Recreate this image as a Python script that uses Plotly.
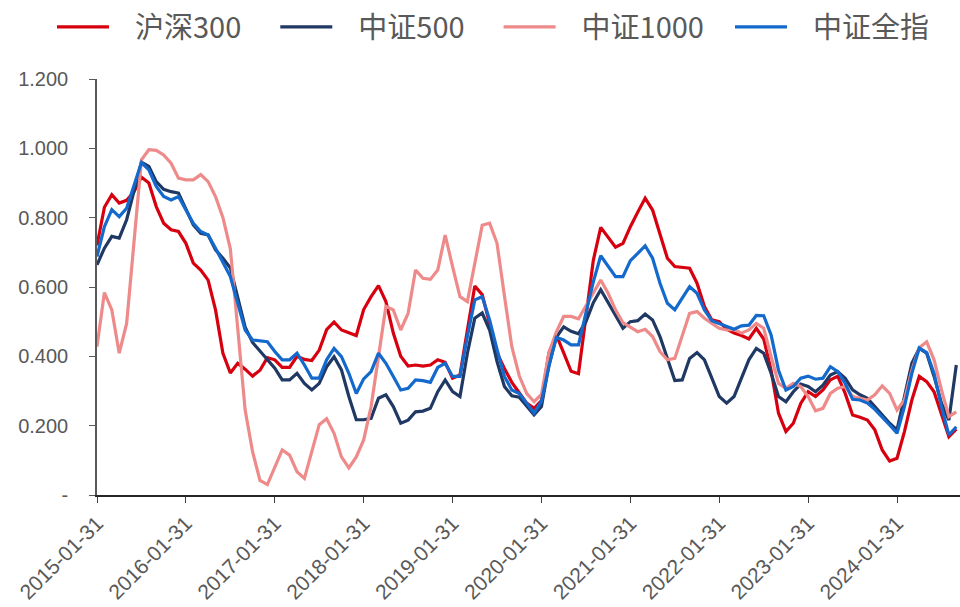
import pandas as pd
import plotly.graph_objects as go

dates = [d.strftime("%Y-%m-%d") for d in pd.date_range("2015-01-31", "2024-09-30", freq="ME")]

hs300 = [0.72, 0.83, 0.866, 0.842, 0.85, 0.875, 0.917, 0.90, 0.832, 0.784, 0.765, 0.76,
         0.726, 0.669, 0.649, 0.62, 0.534, 0.409, 0.352, 0.38, 0.363, 0.343, 0.36, 0.396,
         0.39, 0.368, 0.368, 0.40, 0.391, 0.388, 0.418, 0.477, 0.499, 0.476, 0.468, 0.46,
         0.535, 0.572, 0.604, 0.558, 0.467, 0.40, 0.372, 0.375, 0.372, 0.375, 0.39, 0.383,
         0.337, 0.346, 0.476, 0.603, 0.578, 0.49, 0.41, 0.365, 0.325, 0.295, 0.265, 0.25,
         0.272, 0.41, 0.462, 0.41, 0.357, 0.35, 0.51, 0.677, 0.772, 0.744, 0.715, 0.726,
         0.774, 0.816, 0.856, 0.822, 0.755, 0.683, 0.659, 0.657, 0.654, 0.611, 0.544, 0.505,
         0.50, 0.478, 0.467, 0.46, 0.45, 0.481, 0.45, 0.36, 0.236, 0.183, 0.207, 0.264,
         0.298, 0.284, 0.303, 0.332, 0.343, 0.293, 0.231, 0.224, 0.216, 0.188, 0.13, 0.098,
         0.106, 0.183, 0.274, 0.342, 0.327, 0.298, 0.236, 0.168, 0.19]

zz500 = [0.664, 0.712, 0.746, 0.741, 0.794, 0.88, 0.96, 0.948, 0.904, 0.882, 0.875, 0.871,
         0.827, 0.779, 0.755, 0.75, 0.707, 0.683, 0.655, 0.565, 0.484, 0.44, 0.415, 0.392,
         0.366, 0.332, 0.332, 0.351, 0.322, 0.303, 0.322, 0.37, 0.399, 0.361, 0.284, 0.217,
         0.217, 0.221, 0.279, 0.289, 0.255, 0.207, 0.216, 0.24, 0.242, 0.25, 0.298, 0.332,
         0.298, 0.284, 0.409, 0.51, 0.525, 0.476, 0.385, 0.313, 0.286, 0.282, 0.255, 0.231,
         0.255, 0.375, 0.455, 0.485, 0.472, 0.465, 0.50, 0.555, 0.592, 0.555, 0.515, 0.481,
         0.50, 0.503, 0.522, 0.505, 0.457, 0.39, 0.33, 0.332, 0.394, 0.411, 0.39, 0.337,
         0.284, 0.265, 0.284, 0.337, 0.39, 0.423, 0.409, 0.351, 0.284, 0.269, 0.298, 0.32,
         0.313, 0.298, 0.317, 0.346, 0.356, 0.337, 0.303, 0.289, 0.279, 0.255, 0.231, 0.207,
         0.188, 0.284, 0.38, 0.423, 0.409, 0.342, 0.265, 0.216, 0.375]

zz1000 = [0.428, 0.584, 0.534, 0.409, 0.495, 0.736, 0.967, 0.996, 0.994, 0.981, 0.957, 0.914,
          0.909, 0.909, 0.924, 0.904, 0.861, 0.80, 0.71, 0.48, 0.245, 0.125, 0.042, 0.03,
          0.082, 0.13, 0.115, 0.067, 0.048, 0.13, 0.203, 0.22, 0.178, 0.11, 0.078, 0.11,
          0.159, 0.255, 0.40, 0.544, 0.534, 0.476, 0.524, 0.649, 0.625, 0.622, 0.649, 0.75,
          0.659, 0.572, 0.558, 0.669, 0.778, 0.784, 0.726, 0.575, 0.428, 0.344, 0.293, 0.269,
          0.29, 0.41, 0.47, 0.515, 0.515, 0.508, 0.544, 0.582, 0.62, 0.582, 0.534, 0.497,
          0.485, 0.471, 0.478, 0.457, 0.414, 0.39, 0.394, 0.457, 0.524, 0.529, 0.51, 0.495,
          0.481, 0.476, 0.478, 0.467, 0.476, 0.495, 0.481, 0.40, 0.322, 0.308, 0.322, 0.313,
          0.284, 0.243, 0.25, 0.293, 0.308, 0.313, 0.284, 0.279, 0.274, 0.289, 0.315, 0.293,
          0.245, 0.274, 0.36, 0.425, 0.442, 0.39, 0.303, 0.226, 0.24]

zzqz = [0.688, 0.774, 0.823, 0.803, 0.827, 0.89, 0.959, 0.938, 0.89, 0.861, 0.851, 0.861,
        0.823, 0.784, 0.76, 0.75, 0.712, 0.669, 0.63, 0.553, 0.476, 0.447, 0.445, 0.442,
        0.414, 0.39, 0.39, 0.409, 0.375, 0.337, 0.337, 0.39, 0.423, 0.399, 0.351, 0.293,
        0.335, 0.356, 0.409, 0.38, 0.342, 0.303, 0.308, 0.332, 0.33, 0.325, 0.368, 0.38,
        0.342, 0.342, 0.457, 0.563, 0.572, 0.505, 0.42, 0.342, 0.303, 0.293, 0.265, 0.236,
        0.27, 0.37, 0.455, 0.447, 0.433, 0.433, 0.525, 0.615, 0.69, 0.66, 0.63, 0.63,
        0.676, 0.697, 0.719, 0.683, 0.611, 0.553, 0.534, 0.568, 0.601, 0.582, 0.534, 0.503,
        0.495, 0.486, 0.478, 0.488, 0.49, 0.518, 0.517, 0.462, 0.36, 0.303, 0.313, 0.337,
        0.343, 0.334, 0.337, 0.37, 0.356, 0.322, 0.276, 0.274, 0.265, 0.247, 0.226, 0.202,
        0.178, 0.255, 0.351, 0.424, 0.411, 0.351, 0.255, 0.173, 0.197]

series_names = ["沪深300", "中证500", "中证1000", "中证全指"]
series_colors = ["#D7000F", "#1F3864", "#EE8A8A", "#1469CC"]
series_values = [hs300, zz500, zz1000, zzqz]
legend_pads = ["\u2003", "\u2003", "\u2002\u00a0", ""]

y_tickvals = [0, 0.2, 0.4, 0.6, 0.8, 1.0, 1.2]
y_ticktext = ["-", "0.200", "0.400", "0.600", "0.800", "1.000", "1.200"]
x_tickvals = [d for d in dates if d[5:7] == "01"]

fig = go.Figure()
for name, color, vals, pad in zip(series_names, series_colors, series_values, legend_pads):
    fig.add_trace(go.Scatter(
        x=dates, y=vals, mode="lines", name="\u2002\u00a0" + name + pad,
        line=dict(color=color, width=3.2),
    ))

fig.update_layout(
    width=960, height=607,
    margin=dict(l=97, r=0, t=79, b=112, autoexpand=False),
    paper_bgcolor="white", plot_bgcolor="white",
    showlegend=True,
    legend=dict(
        orientation="h", x=(52 - 97) / 863, xanchor="left",
        y=1 + (79 - 27) / 416, yanchor="middle",
        font=dict(family="Noto Sans CJK SC", size=29, color="#595959"),
        itemwidth=52,
        bgcolor="rgba(0,0,0,0)",
    ),
    xaxis=dict(
        type="category", range=[0, 116.5],
        tickmode="array", tickvals=x_tickvals, ticktext=x_tickvals,
        tickangle=-45, ticks="outside", ticklen=6, tickcolor="#404040", tickwidth=1.2,
        showline=True, linecolor="#262626", linewidth=1.5,
        showgrid=False, zeroline=False,
        tickfont=dict(family="Liberation Sans", size=21, color="#595959"),
    ),
    yaxis=dict(
        range=[0, 1.2], tickmode="array", tickvals=y_tickvals, ticktext=y_ticktext,
        ticks="outside", ticklen=6, tickcolor="#595959", tickwidth=1.2,
        showline=True, linecolor="#595959", linewidth=1.5,
        showgrid=False, zeroline=False, ticklabelstandoff=17,
        tickfont=dict(family="Liberation Sans", size=20, color="#595959"),
    ),
)

fig.write_html("out.html", config={"displayModeBar": False},
               post_script="document.body.style.margin='0px';")
